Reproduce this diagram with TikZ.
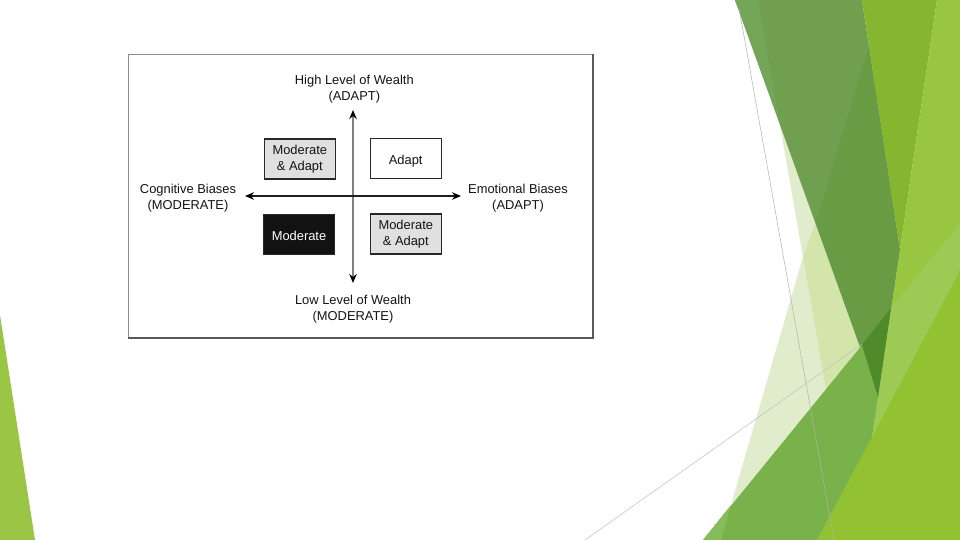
\documentclass[tikz,border=0pt]{standalone}
\usepackage{fontspec}
\setmainfont{Liberation Sans}
\usetikzlibrary{arrows.meta}

\definecolor{paleLight}{RGB}{224,236,203}
\definecolor{paleDark}{RGB}{212,229,172}
\definecolor{bandStrip}{RGB}{116,166,88}
\definecolor{bandMain}{RGB}{111,159,79}
\definecolor{bandDark}{RGB}{105,154,68}
\definecolor{oliveLime}{RGB}{134,181,48}
\definecolor{lightLime}{RGB}{152,198,64}
\definecolor{bottomLime}{RGB}{146,194,50}
\definecolor{glowLime}{RGB}{157,202,85}
\definecolor{midGreen}{RGB}{121,178,75}
\definecolor{midLight}{RGB}{135,188,91}
\definecolor{tipGreen}{RGB}{79,139,43}
\definecolor{sliver}{RGB}{155,197,69}
\definecolor{inkText}{RGB}{20,20,20}
\definecolor{boxEdge}{RGB}{40,40,40}
\definecolor{boxGrey}{RGB}{224,224,224}

\tikzset{every picture/.style={line width=0.75pt}}

\begin{document}
\begin{tikzpicture}[x=1pt,y=1pt,yscale=-1,xscale=1,
  txt/.style={inner sep=0pt,align=center,text=inkText,font=\fontsize{12.9}{16}\selectfont},
  quad/.style={txt,draw=boxEdge,line width=1.4pt,minimum width=71pt,minimum height=40pt,
    execute at begin node={\rule{0pt}{13.5pt}}},
  axis/.style={line width=2pt,{Stealth[length=9pt,width=7.5pt,black]}-{Stealth[length=9pt,width=7.5pt,black]}}]
\useasboundingbox (0,0) rectangle (960,540);
\fill[white] (0,0) rectangle (960,540);

%Shape: Polygon pale
\fill[paleLight] (779,120) -- (803,257) -- (731,505) -- (862,345) -- cycle ;
%Shape: Polygon pale overlap
\fill[paleDark] (803,257) -- (826,389) -- (862,345) -- (816,222) -- cycle ;
%Shape: Polygon band
\fill[bandMain] (735,0) -- (862,0) -- (900,250) -- (878,397) -- cycle ;
%Shape: Polygon band strip
\fill[bandStrip] (735,0) -- (758,0) -- (779,120) -- cycle ;
%Shape: Polygon band overlap
\fill[bandDark] (869,46) -- (900,250) -- (878,397) -- (816,222) -- cycle ;
%Shape: Polygon olive
\fill[oliveLime] (862,0) -- (937,0) -- (900,250) -- cycle ;
%Shape: Polygon lime
\fill[lightLime] (937,0) -- (960,0) -- (960,540) -- (857,540) -- cycle ;
%Shape: Polygon bottom lime
\fill[bottomLime] (817,540) -- (960,270) -- (960,540) -- cycle ;
%Shape: Polygon glow
\fill[glowLime] (891,308) -- (960,224) -- (960,270) -- (872,437) -- cycle ;
%Shape: Polygon mid green
\fill[midGreen] (703,540) -- (862,345) -- (878,397) -- (872,437) -- (817,540) -- cycle ;
%Shape: Polygon mid corner
\fill[midLight] (703,540) -- (731,505) -- (721,540) -- cycle ;
%Shape: Polygon tip
\fill[tipGreen] (862,345) -- (891,308) -- (878,397) -- cycle ;
%Shape: Polygon left sliver
\fill[sliver] (0,315) -- (35,540) -- (0,540) -- cycle ;
%Straight Lines thin
\draw[line width=0.5pt,black!30] (739,8) -- (834,540) ;
\draw[line width=0.5pt,black!25] (585,540) -- (862,344) ;

%Shape: Rectangle frame
\draw[line width=0.8pt,black!45] (128,54) rectangle (593,338) ;
\draw[line width=1.4pt,black!65] (593,54) -- (593,338) -- (128,338) ;

% Box Nodes
\node[quad,fill=boxGrey] (modAdaptHi) at (299.8,159.2) {Moderate\\\& Adapt};
\node[quad,fill=white] (adapt) at (405.7,158.8) {Adapt};
\node[quad,fill=black!93,text=white] (moderate) at (299,234.2) {Moderate};
\node[quad,fill=boxGrey] (modAdaptLo) at (405.8,234.1) {Moderate\\\& Adapt};

% Text Node
\node[txt] (highWealth) at (354.3,88.7) {High Level of Wealth\\(ADAPT)};
% Text Node
\node[txt] (lowWealth) at (353,308.7) {Low Level of Wealth\\(MODERATE)};
% Text Node
\node[txt] (cogBias) at (188,197.8) {Cognitive Biases\\(MODERATE)};
% Text Node
\node[txt] (emoBias) at (518,197.8) {Emotional Biases\\(ADAPT)};

\coordinate (vTop) at (353,110);
\coordinate (vBot) at (353,283);
\coordinate (hLeft) at (245,196);
\coordinate (hRight) at (461,196);
%Axes
\draw[axis,black!50] (vBot) -- (vTop) ;
\draw[axis,black!88] (hLeft) -- (hRight) ;

\end{tikzpicture}
\end{document}
